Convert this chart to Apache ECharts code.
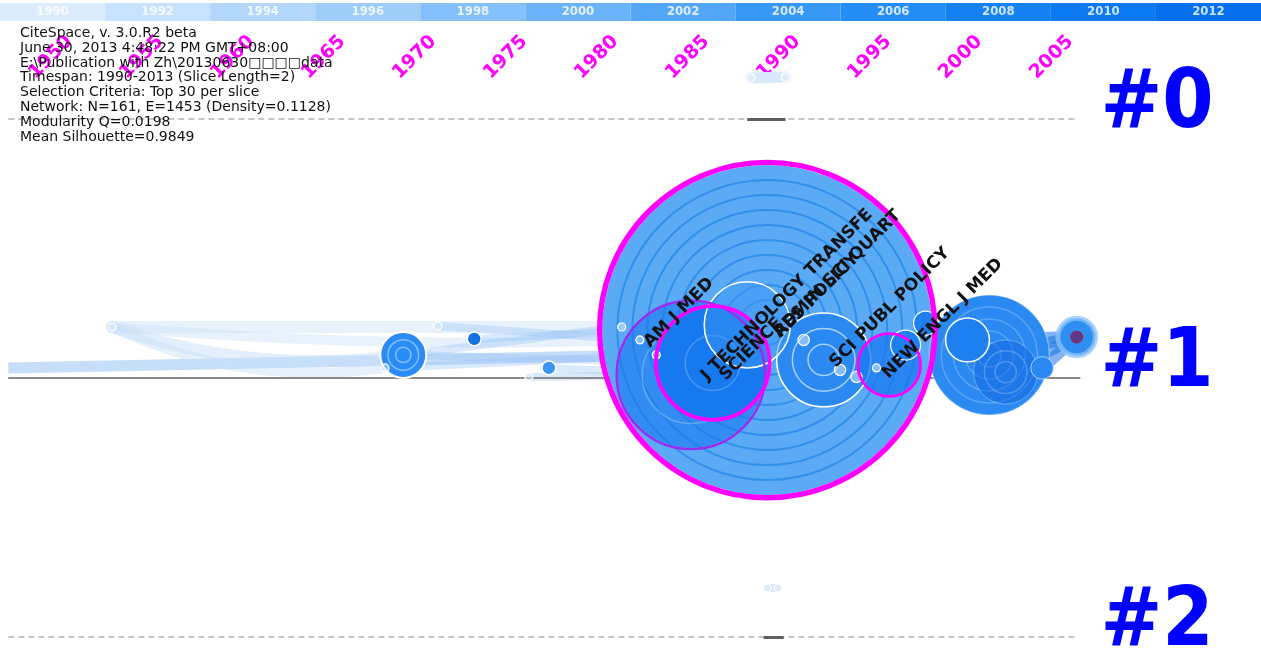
<!DOCTYPE html>
<html>
<head>
<meta charset="utf-8">
<title>CiteSpace timeline view</title>
<script src="https://cdn.jsdelivr.net/npm/echarts@6/dist/echarts.min.js"></script>
<style>
  html, body { margin: 0; padding: 0; background: #fff; }
  #chart { width: 1261px; height: 655px; }
</style>
</head>
<body>
<div id="chart"></div>
<script>
// time slices in the top bar
const sliceYears = ['1990', '1992', '1994', '1996', '1998', '2000', '2002', '2004', '2006', '2008', '2010', '2012']

// header info
const headerLines = [
  'CiteSpace, v. 3.0.R2 beta',
  'June 30, 2013 4:48:22 PM GMT+08:00',
  'E:\\Publication with Zh\\20130630□□□□data',
  'Timespan: 1990-2013 (Slice Length=2)',
  'Selection Criteria: Top 30 per slice',
  'Network: N=161, E=1453 (Density=0.1128)',
  'Modularity Q=0.0198',
  'Mean Silhouette=0.9849',
]

// clusters (rows) and the span of cited years they cover
const clusterIds = [0, 1, 2]
const clusterSpans = [
  [1989.3, 1991.4],
  [1948.7, 2007.6],
  [1990.2, 1991.3],
]
const timelineRange = [1948.7, 2007.3]

// nodes: cited sources
const nodeNames = [
  'RES POLICY', 'ADMIN SCI QUART', 'J TECHNOLOGY TRANSFE', 'SCIENCE', 'SCI PUBL POLICY',
  'NEW ENGL J MED', 'AM J MED', '', '', '', '', '', '', '', '', '', '', '',
  '', '', '', '', '', '', '', '', '', '', '', '', '', '',
]
const nodeYears = [
  1990.4, 1989.3, 1986.2, 1987.4, 1993.5, 1996.4, 1983.4, 1997.1, 2002.6, 2001.4,
  2003.5, 2005.5, 2007.4, 1998.0, 1999.1, 1970.4, 1974.3, 1978.4, 1954.4, 1972.3,
  1969.4, 1977.3, 1982.4, 1984.3, 1992.4, 1994.4, 1995.3, 1948.7, 1989.5, 1991.4,
  1990.4, 1991.0,
]
const nodeLanes = [
  0.815, 0.795, 0.988, 0.942, 0.930, 0.961, 0.853, 0.950, 0.911, 0.853,
  0.977, 0.961, 0.842, 0.873, 0.788, 0.911, 0.849, 0.961, 0.803, 0.799,
  0.961, 0.996, 0.803, 0.911, 0.853, 0.969, 0.996, 0.961, -0.158, -0.162,
  1.811, 1.811,
]
const nodeFreq = [
  1701, 116, 333, 189, 138, 1, 1, 56, 225, 30,
  64, 8, 22, 14, 9, 33, 3, 3, 1, 1,
  1, 1, 1, 1, 2, 2, 2, 1, 1, 1,
  1, 1,
]
const nodeCentrality = [
  0.42, 0, 0.12, 0.25, 0, 0, 0, 0.16, 0, 0,
  0, 0, 0, 0, 0, 0, 0, 0, 0, 0,
  0, 0, 0, 0, 0, 0, 0, 0, 0, 0,
  0, 0,
]
const nodeRings = [
  11, 1, 3, 2, 3, 1, 1, 1, 5, 1,
  3, 1, 1, 1, 1, 3, 1, 1, 1, 1,
  1, 1, 1, 1, 1, 1, 1, 1, 1, 1,
  1, 1,
]

// co-citation links (source, target)
const links = [
  [27, 23], [18, 15], [18, 22], [18, 6], [18, 20], [19, 6], [15, 3], [20, 23],
  [16, 1], [17, 2], [21, 2], [15, 22], [13, 8], [14, 8], [9, 12], [8, 12],
  [4, 8], [10, 12], [11, 12], [3, 10], [28, 29], [30, 31],
]

// ---- styles ----
const barColors = ['#dcecfd', '#c8e1fc', '#b3d7fb', '#9ecdfa', '#84c0f9', '#6bb3f8',
  '#54a6f7', '#3898f6', '#248df5', '#1482f3', '#0b79f1', '#0670ee']

const dotStyle = { fill: 'rgba(225,238,252,0.5)', border: '#ffffff', borderWidth: 1.2 }
const nodeStyles = {
  0: { fill: '#5aaaf5', border: '#5aaaf5', borderWidth: 0, ring: '#3190ec', ringWidth: 2 },
  1: { fill: 'rgba(60,150,245,0.5)', border: '#ffffff', borderWidth: 1.5 },
  2: { fill: 'rgba(25,120,238,0.6)', border: 'rgba(0,0,0,0)', borderWidth: 0, ring: 'rgba(255,255,255,0.25)' },
  3: { fill: '#1779ef', border: 'rgba(0,0,0,0)', borderWidth: 0, ring: 'rgba(120,180,250,0.5)' },
  4: { fill: '#2a8af2', border: '#ffffff', borderWidth: 1.5, ring: 'rgba(255,255,255,0.6)' },
  7: { fill: 'rgba(25,120,240,0.75)', border: 'rgba(0,0,0,0)', borderWidth: 0 },
  8: { fill: '#2b8af2', border: 'rgba(255,255,255,0.35)', borderWidth: 1.5, ring: 'rgba(255,255,255,0.22)' },
  9: { fill: '#1c80f0', border: '#ffffff', borderWidth: 1.5 },
  10: { fill: 'rgba(15,100,222,0.5)', border: 'rgba(255,255,255,0.3)', borderWidth: 1, ring: 'rgba(255,255,255,0.22)' },
  11: { fill: '#2a8af2', border: 'rgba(255,255,255,0.6)', borderWidth: 1 },
  12: { fill: '#2f8ff0', border: 'rgba(140,195,250,0.75)', borderWidth: 5, core: '#8e2560' },
  13: { fill: '#1c80f0', border: '#ffffff', borderWidth: 1.2 },
  14: { fill: '#1c80f0', border: '#ffffff', borderWidth: 1.2 },
  15: { fill: '#2a8bf5', border: '#ffffff', borderWidth: 2, ring: 'rgba(150,205,255,0.8)' },
  16: { fill: '#1570e0', border: '#ffffff', borderWidth: 1.5 },
  17: { fill: '#3c95f0', border: '#ffffff', borderWidth: 1.5 },
  27: { fill: 'rgba(0,0,0,0)', border: 'rgba(0,0,0,0)', borderWidth: 0 },
}
const linkStyles = {
  0: { color: 'rgba(185,214,247,0.8)', width: 11, curveness: 0, cap: 'butt' },
  1: { color: 'rgba(200,224,249,0.5)', width: 12, curveness: -0.12 },
  2: { color: 'rgba(205,227,249,0.45)', width: 12, curveness: 0 },
  3: { color: 'rgba(205,227,249,0.45)', width: 10, curveness: -0.03 },
  4: { color: 'rgba(200,224,249,0.45)', width: 10, curveness: -0.15 },
  20: { color: '#d9e9fb', width: 11, curveness: 0 },
  21: { color: '#d9e9fb', width: 8, curveness: 0 },
}
const rightLink = { color: 'rgba(25,115,232,0.55)', width: 12, curveness: 0 }
const defaultLink = { color: 'rgba(150,195,245,0.35)', width: 8, curveness: 0 }

// label start shifts in screen pixels (x right, y down)
const labelShifts = {
  0: [10, 5], 1: [29, 10], 2: [13, 3], 3: [10, 15], 4: [9, 5], 5: [9, 8], 6: [7, 5],
}

// pixel layout of the timeline (year -> x, row -> y)
const X0 = 760, PX_YEAR = 18.2, Y0 = 119, PX_ROW = 259

const radius = (i) => 4 * Math.sqrt(nodeFreq[i])
const styleOf = (i) => nodeStyles[i] || dotStyle

// node bodies with tree rings, biggest first
const order = nodeNames.map((_, i) => i).sort((a, b) => nodeFreq[b] - nodeFreq[a])
const bodyData = []
order.forEach((i) => {
  const st = styleOf(i)
  const d = 2 * radius(i)
  const pos = [nodeYears[i], nodeLanes[i]]
  bodyData.push({
    value: pos,
    symbolSize: d,
    itemStyle: { color: st.fill, borderColor: st.border, borderWidth: st.borderWidth, opacity: 1 },
  })
  for (let k = nodeRings[i] - 1; k >= 1; k--) {
    bodyData.push({
      value: pos,
      symbolSize: (d * k) / nodeRings[i],
      itemStyle: { color: 'rgba(0,0,0,0)', borderColor: st.ring, borderWidth: st.ringWidth || 1.5, opacity: 1 },
    })
  }
  if (st.core) {
    bodyData.push({
      value: pos,
      symbolSize: d * 0.3,
      itemStyle: { color: '#5a3a8a', borderColor: st.core, borderWidth: 1.5, opacity: 1 },
    })
  }
})

// centrality rings
const centralityData = []
nodeCentrality.forEach((c, i) => {
  if (c <= 0) return
  const w = 1.2 + c * 10
  centralityData.push({
    value: [nodeYears[i], nodeLanes[i]],
    symbolSize: 2 * radius(i) + w,
    itemStyle: { color: 'rgba(0,0,0,0)', borderColor: c > 0.15 ? '#ff00ff' : '#9a2cf0', borderWidth: w, opacity: 1 },
  })
})

// links
const linkData = links.map(([s, t], k) => {
  let st = linkStyles[k] || defaultLink
  if (!linkStyles[k] && nodeYears[s] > 1995) st = rightLink
  return {
    coords: [[nodeYears[s], nodeLanes[s]], [nodeYears[t], nodeLanes[t]]],
    lineStyle: { color: st.color, width: st.width, curveness: st.curveness, opacity: 1, cap: st.cap || 'round' },
  }
})

// row lines
const rowLineData = []
clusterIds.forEach((id, k) => {
  rowLineData.push({
    coords: [[timelineRange[0], id], [timelineRange[1], id]],
    lineStyle: { color: '#b4b4b4', width: 1.5, type: [6, 4], curveness: 0, opacity: 1 },
  })
  const span = clusterSpans[k]
  const wide = span[1] - span[0] > 10
  rowLineData.push({
    coords: [[span[0], id], [span[1], id]],
    lineStyle: { color: wide ? '#8a8a8a' : '#5e5e5e', width: wide ? 2 : 3, type: 'solid', curveness: 0, opacity: 1 },
  })
})

// label offsets are applied in the rotated (45 deg) text frame
const toTextFrame = ([dx, dy]) => [Math.SQRT1_2 * (dx - dy), Math.SQRT1_2 * (dx + dy)]
const labelData = nodeNames
  .map((name, i) => ({ name, i }))
  .filter((d) => d.name)
  .map(({ name, i }) => ({
    name,
    value: [nodeYears[i], nodeLanes[i]],
    label: { offset: toTextFrame(labelShifts[i] || [0, 0]) },
  }))

const chart = echarts.init(document.getElementById('chart'))

chart.setOption({
  animation: false,
  backgroundColor: '#ffffff',
  title: {
    text: headerLines.join('\n'),
    left: 15,
    top: 21,
    textStyle: {
      fontFamily: 'DejaVu Sans, sans-serif',
      fontSize: 14,
      fontWeight: 'normal',
      color: '#111111',
      lineHeight: 14.8,
    },
  },
  grid: [
    { left: 0, right: 0, top: 0, bottom: 0 },
    { left: 0, right: 0, top: 3, height: 18 },
    { left: X0 - 40 * PX_YEAR, right: 1261 - (X0 + 25 * PX_YEAR), top: 84, height: 1 },
  ],
  xAxis: [
    {
      gridIndex: 0,
      type: 'value',
      min: 1990 - X0 / PX_YEAR,
      max: 1990 + (1261 - X0) / PX_YEAR,
      show: false,
    },
    {
      gridIndex: 1,
      type: 'category',
      data: sliceYears,
      show: false,
    },
    {
      gridIndex: 2,
      type: 'value',
      position: 'top',
      min: 1950,
      max: 2015,
      interval: 5,
      axisLine: { show: false },
      axisTick: { show: false },
      splitLine: { show: false },
      axisLabel: {
        rotate: 45,
        margin: 8,
        color: '#ff00ff',
        fontFamily: 'DejaVu Sans, sans-serif',
        fontWeight: 'bold',
        fontSize: 19,
        formatter: (v) => (v <= 2005 ? String(v) : ''),
      },
    },
  ],
  yAxis: [
    {
      gridIndex: 0,
      type: 'value',
      inverse: true,
      min: -Y0 / PX_ROW,
      max: (655 - Y0) / PX_ROW,
      show: false,
    },
    { gridIndex: 1, type: 'value', min: 0, max: 1, show: false },
    { gridIndex: 2, type: 'value', min: 0, max: 1, show: false },
  ],
  series: [
    {
      name: 'slices',
      type: 'bar',
      xAxisIndex: 1,
      yAxisIndex: 1,
      barWidth: '100%',
      silent: true,
      data: sliceYears.map((y, i) => ({ value: 1, itemStyle: { color: barColors[i] } })),
      label: {
        show: true,
        position: 'inside',
        formatter: (p) => p.name,
        color: 'rgba(255,255,255,0.8)',
        fontFamily: 'Liberation Sans Narrow, DejaVu Sans Condensed, sans-serif',
        fontWeight: 'bold',
        fontSize: 13,
      },
    },
    {
      name: 'links',
      type: 'lines',
      coordinateSystem: 'cartesian2d',
      xAxisIndex: 0,
      yAxisIndex: 0,
      silent: true,
      z: 2,
      data: linkData,
    },
    {
      name: 'timelines',
      type: 'lines',
      coordinateSystem: 'cartesian2d',
      xAxisIndex: 0,
      yAxisIndex: 0,
      silent: true,
      z: 3,
      data: rowLineData,
    },
    {
      name: 'nodes',
      type: 'scatter',
      xAxisIndex: 0,
      yAxisIndex: 0,
      silent: true,
      z: 4,
      itemStyle: { opacity: 1 },
      data: bodyData,
    },
    {
      name: 'centrality',
      type: 'scatter',
      xAxisIndex: 0,
      yAxisIndex: 0,
      silent: true,
      z: 5,
      itemStyle: { opacity: 1 },
      data: centralityData,
    },
    {
      name: 'labels',
      type: 'scatter',
      xAxisIndex: 0,
      yAxisIndex: 0,
      silent: true,
      z: 6,
      symbolSize: 0,
      itemStyle: { color: 'rgba(0,0,0,0)', opacity: 1 },
      label: {
        show: true,
        position: 'inside',
        formatter: (p) => p.name,
        rotate: 45,
        align: 'left',
        verticalAlign: 'middle',
        color: '#111111',
        fontFamily: 'DejaVu Sans, sans-serif',
        fontWeight: 'bold',
        fontSize: 17,
      },
      data: labelData,
    },
    {
      name: 'clusters',
      type: 'scatter',
      xAxisIndex: 0,
      yAxisIndex: 0,
      silent: true,
      z: 7,
      symbolSize: 0,
      itemStyle: { color: 'rgba(0,0,0,0)', opacity: 1 },
      label: {
        show: true,
        position: 'inside',
        formatter: (p) => '#' + p.value[2],
        color: '#0000ff',
        fontFamily: 'DejaVu Sans Condensed, DejaVu Sans, sans-serif',
        fontWeight: 'bold',
        fontSize: 82,
      },
      data: clusterIds.map((id) => [1990 + (1157 - X0) / PX_YEAR, id - 0.05, id]),
    },
  ],
})
</script>
</body>
</html>
